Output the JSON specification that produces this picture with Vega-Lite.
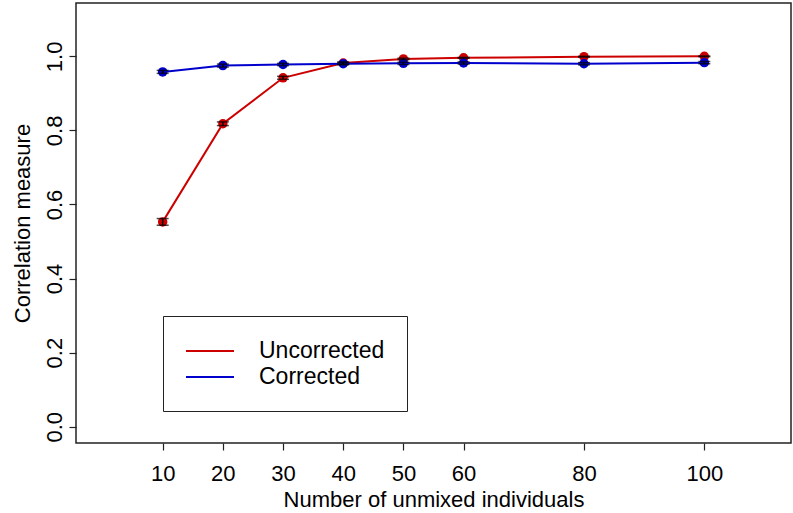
{
  "$schema": "https://vega.github.io/schema/vega-lite/v6.json",
  "width": 715,
  "height": 440,
  "autosize": "none",
  "padding": {"left": 76, "top": 3, "right": 2, "bottom": 70},
  "background": "white",
  "config": {
    "font": "Liberation Sans",
    "view": {"stroke": "#222222", "strokeWidth": 1.5},
    "axis": {"grid": false, "domain": false, "tickColor": "#222222", "tickWidth": 1.2, "tickSize": 7, "labelColor": "black", "titleColor": "black", "labelFont": "Liberation Sans", "titleFont": "Liberation Sans", "labelFontSize": 22, "titleFontSize": 22, "titleFontWeight": "normal"}
  },
  "data": {
    "values": [
      {"n": 10, "series": "Uncorrected", "r": 0.553, "lo": 0.544, "hi": 0.562},
      {"n": 20, "series": "Uncorrected", "r": 0.818, "lo": 0.813, "hi": 0.823},
      {"n": 30, "series": "Uncorrected", "r": 0.942, "lo": 0.938, "hi": 0.946},
      {"n": 40, "series": "Uncorrected", "r": 0.982, "lo": 0.979, "hi": 0.985},
      {"n": 50, "series": "Uncorrected", "r": 0.993, "lo": 0.991, "hi": 0.995},
      {"n": 60, "series": "Uncorrected", "r": 0.996, "lo": 0.995, "hi": 0.997},
      {"n": 80, "series": "Uncorrected", "r": 0.999, "lo": 0.998, "hi": 1.0},
      {"n": 100, "series": "Uncorrected", "r": 1.0, "lo": 0.999, "hi": 1.001},
      {"n": 10, "series": "Corrected", "r": 0.958, "lo": 0.954, "hi": 0.962},
      {"n": 20, "series": "Corrected", "r": 0.975, "lo": 0.971, "hi": 0.979},
      {"n": 30, "series": "Corrected", "r": 0.978, "lo": 0.975, "hi": 0.981},
      {"n": 40, "series": "Corrected", "r": 0.980, "lo": 0.977, "hi": 0.983},
      {"n": 50, "series": "Corrected", "r": 0.981, "lo": 0.978, "hi": 0.984},
      {"n": 60, "series": "Corrected", "r": 0.982, "lo": 0.979, "hi": 0.985},
      {"n": 80, "series": "Corrected", "r": 0.980, "lo": 0.977, "hi": 0.983},
      {"n": 100, "series": "Corrected", "r": 0.983, "lo": 0.980, "hi": 0.986}
    ]
  },
  "encoding": {
    "x": {"field": "n", "type": "quantitative", "scale": {"domain": [-4.4, 114.4], "nice": false, "zero": false},
      "axis": {"title": "Number of unmixed individuals", "values": [10, 20, 30, 40, 50, 60, 80, 100], "labelPadding": 13, "titlePadding": 5}}
  },
  "layer": [
    {
      "mark": {"type": "line", "strokeWidth": 2},
      "encoding": {
        "y": {"field": "r", "type": "quantitative", "title": "Correlation measure", "scale": {"domain": [-0.044, 1.144], "nice": false, "zero": false},
          "axis": {"title": "Correlation measure", "values": [0, 0.2, 0.4, 0.6, 0.8, 1.0], "format": ".1f", "labelAngle": -90, "labelAlign": "center", "labelBaseline": "bottom", "labelPadding": 3, "titlePadding": 9}},
        "color": {"field": "series", "type": "nominal",
          "scale": {"domain": ["Uncorrected", "Corrected"], "range": ["#CD0000", "#0000CD"]},
          "legend": {"title": null, "orient": "none", "legendX": 87, "legendY": 313, "symbolType": "M-1,0H3", "symbolSize": 576, "symbolStrokeWidth": 2, "labelFontSize": 23, "labelFont": "Liberation Sans", "labelColor": "black", "labelOffset": 48, "rowPadding": 1, "padding": 22, "strokeColor": "#222222", "fillColor": "white", "symbolOffset": 0}}
      }
    },
    {
      "mark": {"type": "point", "filled": true, "opacity": 1, "size": 90},
      "encoding": {
        "y": {"field": "r", "type": "quantitative", "title": "Correlation measure"},
        "color": {"field": "series", "type": "nominal", "legend": null}
      }
    },
    {
      "mark": {"type": "errorbar", "ticks": {"size": 12, "thickness": 1.5, "color": "black"}, "rule": {"color": "black", "strokeWidth": 1.5}},
      "encoding": {
        "y": {"field": "lo", "type": "quantitative", "title": "Correlation measure"},
        "y2": {"field": "hi"}
      }
    }
  ]
}
